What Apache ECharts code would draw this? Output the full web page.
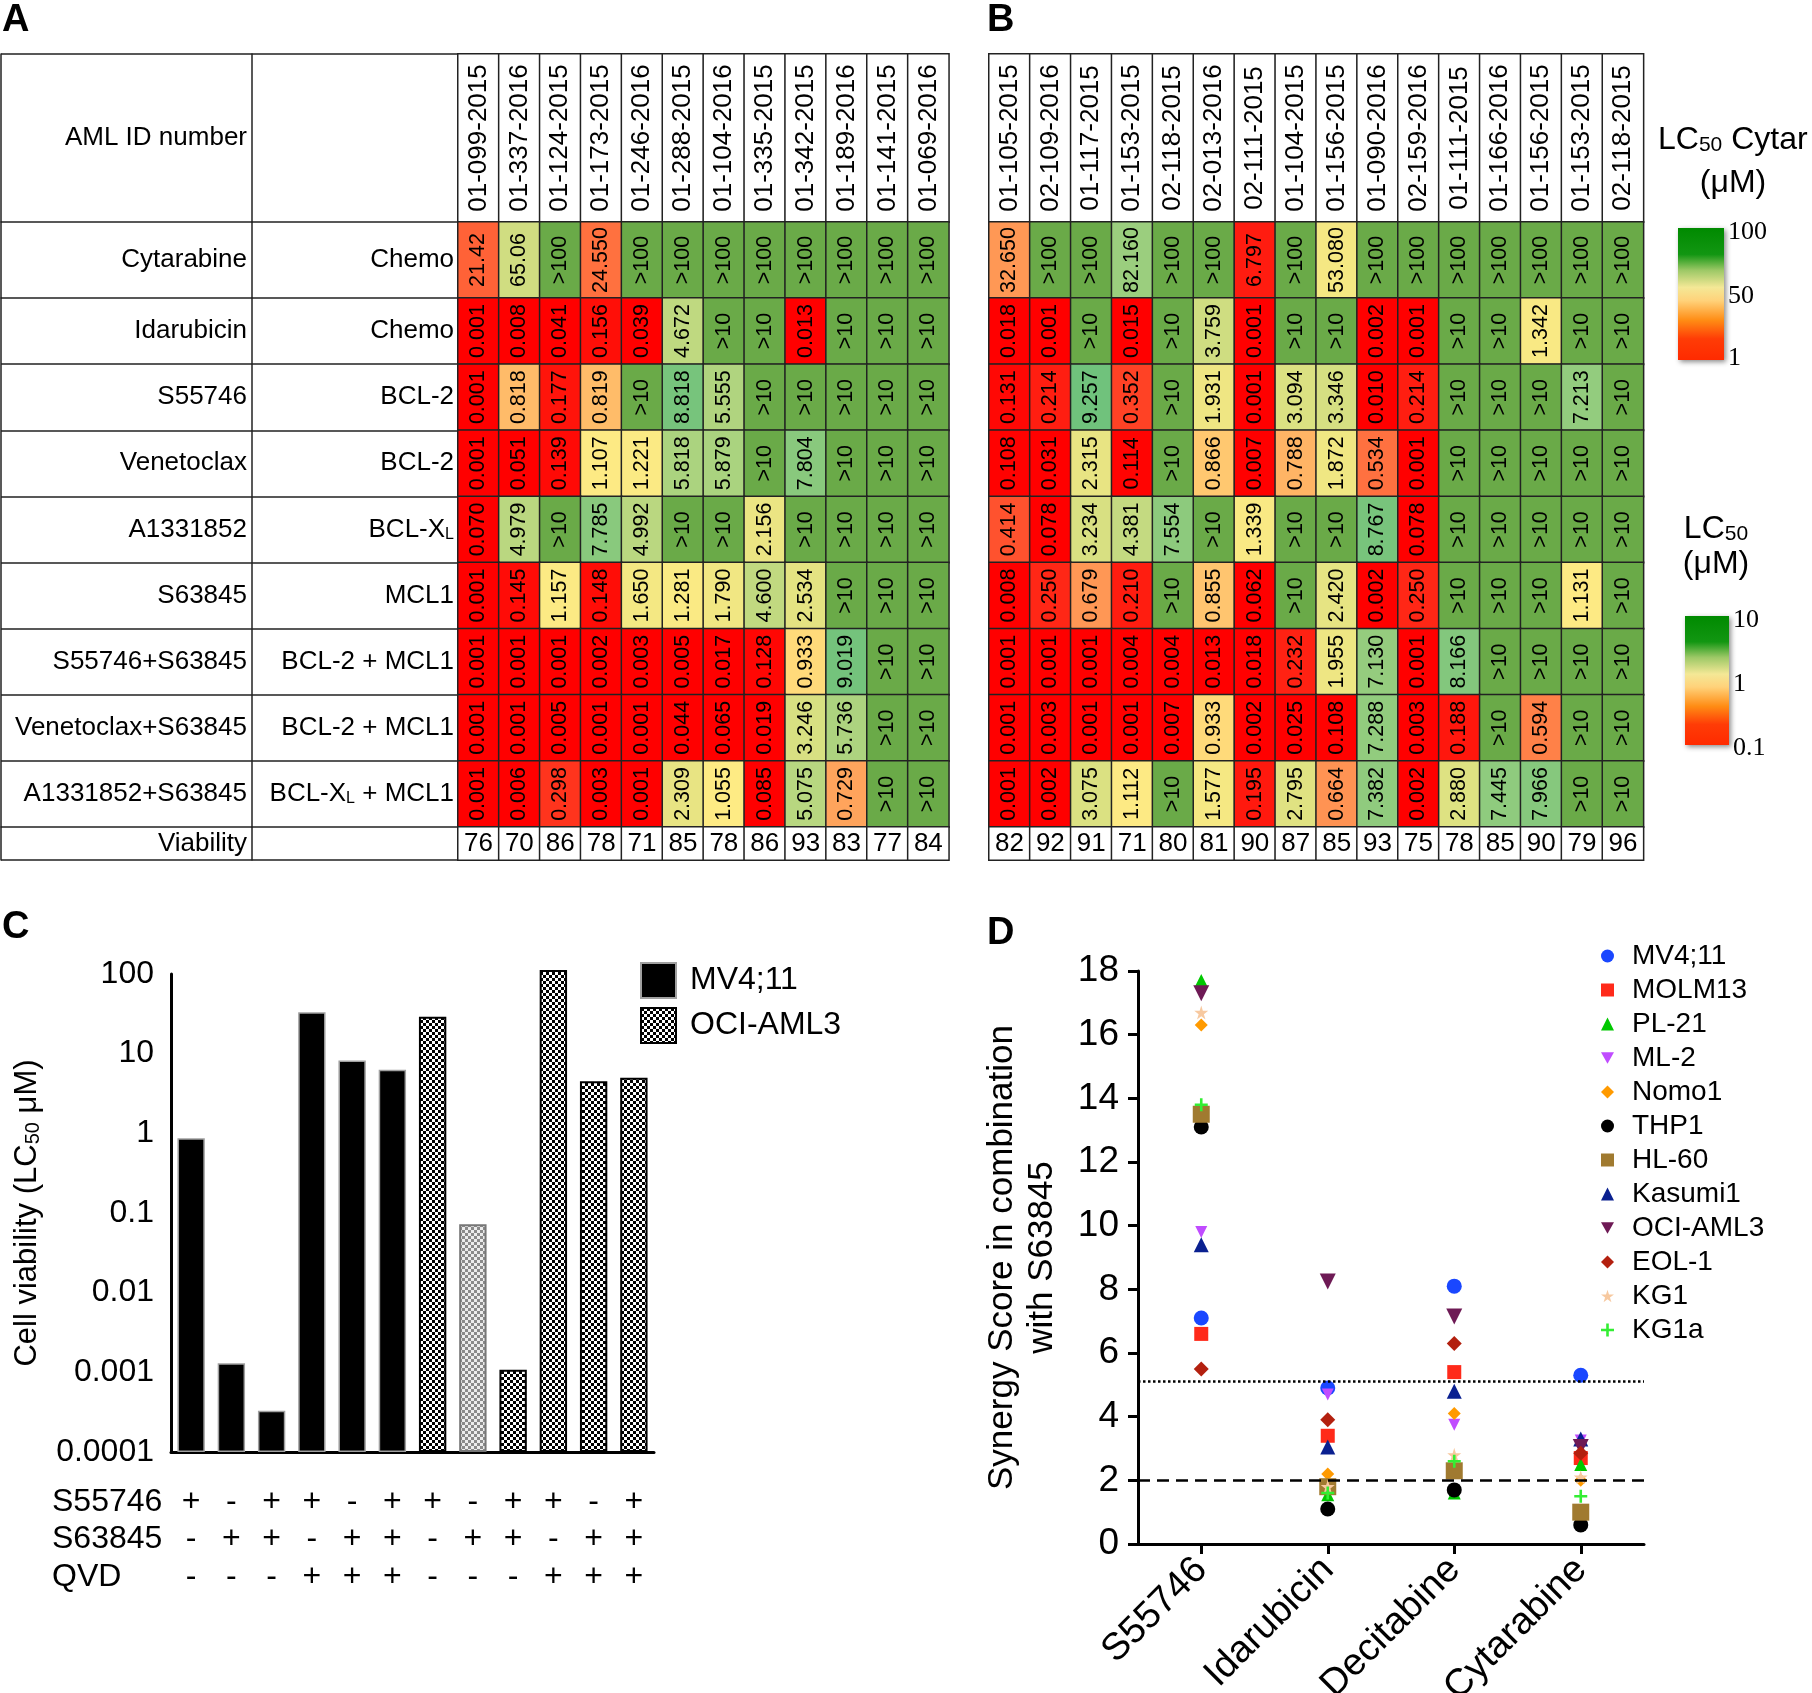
<!DOCTYPE html>
<html>
<head>
<meta charset="utf-8">
<script src="https://cdn.jsdelivr.net/npm/echarts@6/dist/echarts.min.js"></script>
<style>
html, body { margin: 0; padding: 0; background: #fff; }
#chart { width: 1812px; height: 1693px; }
</style>
</head>
<body>
<div id="chart"></div>
<script>
// ---- panel A / B : patient columns ----
const colsA = ['01-099-2015', '01-337-2016', '01-124-2015', '01-173-2015', '01-246-2016', '01-288-2015',
    '01-104-2016', '01-335-2015', '01-342-2015', '01-189-2016', '01-141-2015', '01-069-2016'];
const colsB = ['01-105-2015', '02-109-2016', '01-117-2015', '01-153-2015', '02-118-2015', '02-013-2016',
    '02-111-2015', '01-104-2015', '01-156-2015', '01-090-2016', '02-159-2016', '01-111-2015',
    '01-166-2016', '01-156-2015', '01-153-2015', '02-118-2015'];

const drugRows = ['Idarubicin', 'S55746', 'Venetoclax', 'A1331852', 'S63845',
    'S55746+S63845', 'Venetoclax+S63845', 'A1331852+S63845'];
const targetRows = ['Chemo', 'BCL-2', 'BCL-2', 'BCL-XL', 'MCL1', 'BCL-2 + MCL1', 'BCL-2 + MCL1', 'BCL-XL + MCL1'];

// LC50 values (uM), as printed in the cells
const cytA = ['21.42', '65.06', '>100', '24.550', '>100', '>100', '>100', '>100', '>100', '>100', '>100', '>100'];
const idaA = ['0.001', '0.008', '0.041', '0.156', '0.039', '4.672', '>10', '>10', '0.013', '>10', '>10', '>10'];
const s557A = ['0.001', '0.818', '0.177', '0.819', '>10', '8.818', '5.555', '>10', '>10', '>10', '>10', '>10'];
const venA = ['0.001', '0.051', '0.139', '1.107', '1.221', '5.818', '5.879', '>10', '7.804', '>10', '>10', '>10'];
const a133A = ['0.070', '4.979', '>10', '7.785', '4.992', '>10', '>10', '2.156', '>10', '>10', '>10', '>10'];
const s638A = ['0.001', '0.145', '1.157', '0.148', '1.650', '1.281', '1.790', '4.600', '2.534', '>10', '>10', '>10'];
const s557s638A = ['0.001', '0.001', '0.001', '0.002', '0.003', '0.005', '0.017', '0.128', '0.933', '9.019', '>10', '>10'];
const vens638A = ['0.001', '0.001', '0.005', '0.001', '0.001', '0.044', '0.065', '0.019', '3.246', '5.736', '>10', '>10'];
const a133s638A = ['0.001', '0.006', '0.298', '0.003', '0.001', '2.309', '1.055', '0.085', '5.075', '0.729', '>10', '>10'];
const viabA = ['76', '70', '86', '78', '71', '85', '78', '86', '93', '83', '77', '84'];

const cytB = ['32.650', '>100', '>100', '82.160', '>100', '>100', '6.797', '>100', '53.080', '>100', '>100', '>100', '>100', '>100', '>100', '>100'];
const idaB = ['0.018', '0.001', '>10', '0.015', '>10', '3.759', '0.001', '>10', '>10', '0.002', '0.001', '>10', '>10', '1.342', '>10', '>10'];
const s557B = ['0.131', '0.214', '9.257', '0.352', '>10', '1.931', '0.001', '3.094', '3.346', '0.010', '0.214', '>10', '>10', '>10', '7.213', '>10'];
const venB = ['0.108', '0.031', '2.315', '0.114', '>10', '0.866', '0.007', '0.788', '1.872', '0.534', '0.001', '>10', '>10', '>10', '>10', '>10'];
const a133B = ['0.414', '0.078', '3.234', '4.381', '7.554', '>10', '1.339', '>10', '>10', '8.767', '0.078', '>10', '>10', '>10', '>10', '>10'];
const s638B = ['0.008', '0.250', '0.679', '0.210', '>10', '0.855', '0.062', '>10', '2.420', '0.002', '0.250', '>10', '>10', '>10', '1.131', '>10'];
const s557s638B = ['0.001', '0.001', '0.001', '0.004', '0.004', '0.013', '0.018', '0.232', '1.955', '7.130', '0.001', '8.166', '>10', '>10', '>10', '>10'];
const vens638B = ['0.001', '0.003', '0.001', '0.001', '0.007', '0.933', '0.002', '0.025', '0.108', '7.288', '0.003', '0.188', '>10', '0.594', '>10', '>10'];
const a133s638B = ['0.001', '0.002', '3.075', '1.112', '>10', '1.577', '0.195', '2.795', '0.664', '7.382', '0.002', '2.880', '7.445', '7.966', '>10', '>10'];
const viabB = ['82', '92', '91', '71', '80', '81', '90', '87', '85', '93', '75', '78', '85', '90', '79', '96'];

// ---- panel C ----
const conditionNames = ['S55746', 'S63845', 'QVD'];
const s55746Signs = ['+', '-', '+', '+', '-', '+', '+', '-', '+', '+', '-', '+'];
const s63845Signs = ['-', '+', '+', '-', '+', '+', '-', '+', '+', '-', '+', '+'];
const qvdSigns = ['-', '-', '-', '+', '+', '+', '-', '-', '-', '+', '+', '+'];
const mv411Lc50 = [0.87, 0.0013, 0.00033, 33, 8.2, 6.3];
const ociAml3Lc50 = [29, 0.072, 0.00108, 112, 4.5, 5.0];
const cTickLabels = ['0.0001', '0.001', '0.01', '0.1', '1', '10', '100'];

// ---- panel D ----
const drugsD = ['S55746', 'Idarubicin', 'Decitabine', 'Cytarabine'];
const lineNames = ['MV4;11', 'MOLM13', 'PL-21', 'ML-2', 'Nomo1', 'THP1', 'HL-60', 'Kasumi1', 'OCI-AML3', 'EOL-1', 'KG1', 'KG1a'];
const mv411Score = [7.1, 4.9, 8.1, 5.3];
const molm13Score = [6.6, 3.4, 5.4, 2.7];
const pl21Score = [17.7, 1.55, 1.6, 2.5];
const ml2Score = [9.8, 4.7, 3.75, 3.25];
const nomo1Score = [16.3, 2.2, 4.1, 2.0];
const thp1Score = [13.1, 1.1, 1.7, 0.6];
const hl60Score = [13.5, 1.8, 2.3, 1.0];
const kasumi1Score = [9.4, 3.05, 4.8, 3.3];
const ociAml3Score = [17.3, 8.25, 7.15, 3.05];
const eol1Score = [5.5, 3.9, 6.3, 2.85];
const kg1Score = [16.7, 1.8, 2.8, 2.1];
const kg1aScore = [13.8, 1.6, 2.6, 1.5];
const thresholdLevels = [5.1, 2];

const FONT = "'Liberation Sans', Arial, Helvetica, sans-serif";
const SERIF = "'Liberation Serif', 'Times New Roman', serif";

// colour scale of the tables
const RED = [255, 0, 0], YELLOW = [255, 235, 132], GREEN = [99, 190, 123];
const OVER = '#6aaa48';
function mix(a, b, t) {
    return 'rgb(' + a.map((v, i) => Math.round(v + (b[i] - v) * t)).join(',') + ')';
}
function cellColor(txt, cyt) {
    if (txt[0] === '>') return OVER;
    const v = parseFloat(txt);
    const lo = cyt ? 1 : 0.1, mid = cyt ? 50 : 1, hi = cyt ? 100 : 10;
    if (v <= lo) return mix(RED, RED, 0);
    if (v < mid) return mix(RED, YELLOW, (v - lo) / (mid - lo));
    if (v < hi) return mix(YELLOW, GREEN, (v - mid) / (hi - mid));
    return mix(GREEN, GREEN, 0);
}

// table geometry
const TABLE_X = 1, COL1_X = 252, A_LEFT = 458, B_LEFT = 989, CELL_W = 40.9;
const HEAD_TOP = 54, HEAD_H = 168, CYT_H = 76, REST_H = 529, VIA_H = 33;
const LINE = { color: '#222', width: 1.5 };
const RICH_SUB = { sub: { fontSize: 16, verticalAlign: 'bottom', fontFamily: FONT, color: '#000' } };
const subX = (s) => s.replace('XL', 'X{sub|L}');

const grid = [], xAxis = [], yAxis = [], series = [];

function addBand(left, nCols, top, height, drugLabels, targetLabels, cells, label) {
    const gi = grid.length;
    const withLabels = targetLabels !== null;
    grid.push({ left: left, top: top, width: nCols * CELL_W, height: height, outerBoundsMode: 'none' });
    xAxis.push({ type: 'category', gridIndex: gi, show: false, data: Array.from({ length: nCols }, (_, i) => i) });
    const yi = yAxis.length;
    yAxis.push({
        type: 'category', gridIndex: gi, position: 'left', inverse: true,
        data: withLabels ? targetLabels : drugLabels, show: withLabels,
        axisLine: { show: false },
        axisTick: { show: true, interval: 0, length: left - TABLE_X, lineStyle: LINE },
        axisLabel: { interval: 0, margin: 4, fontSize: 26, color: '#000', fontFamily: FONT, formatter: subX, rich: RICH_SUB }
    });
    if (withLabels) {
        yAxis.push({
            type: 'category', gridIndex: gi, position: 'left', inverse: true, data: drugLabels,
            offset: left - COL1_X,
            axisLine: { show: true, lineStyle: LINE }, axisTick: { show: false },
            axisLabel: { interval: 0, margin: 5, fontSize: 26, color: '#000', fontFamily: FONT }
        });
        yAxis.push({
            type: 'category', gridIndex: gi, position: 'left', inverse: true, data: drugLabels,
            offset: left - TABLE_X,
            axisLine: { show: true, lineStyle: LINE }, axisTick: { show: false }, axisLabel: { show: false }
        });
    }
    series.push({
        type: 'heatmap', xAxisIndex: gi, yAxisIndex: yi, data: cells, silent: true,
        itemStyle: { borderColor: '#222', borderWidth: 1.5 },
        emphasis: { disabled: true },
        label: Object.assign({ show: true, color: '#000', fontFamily: 'Liberation Sans', formatter: (p) => p.data.txt }, label)
    });
}

function valueCells(rows, cyt) {
    const out = [];
    rows.forEach((row, r) => row.forEach((txt, c) => {
        out.push({ value: [c, r, 1], txt: txt, itemStyle: { color: cellColor(txt, cyt) } });
    }));
    return out;
}
function whiteCells(texts) {
    return texts.map((txt, c) => ({ value: [c, 0, 1], txt: txt, itemStyle: { color: '#fff' } }));
}

function addTable(left, cols, cyt, rest, viab, withLabels) {
    const n = cols.length;
    addBand(left, n, HEAD_TOP, HEAD_H, ['AML ID number'], withLabels ? [''] : null,
        whiteCells(cols), { rotate: 90, fontSize: 26 });
    addBand(left, n, HEAD_TOP + HEAD_H, CYT_H, ['Cytarabine'], withLabels ? ['Chemo'] : null,
        valueCells([cyt], true), { rotate: 90, fontSize: 21.5 });
    addBand(left, n, HEAD_TOP + HEAD_H + CYT_H, REST_H, drugRows, withLabels ? targetRows : null,
        valueCells(rest, false), { rotate: 90, fontSize: 21.5 });
    addBand(left, n, HEAD_TOP + HEAD_H + CYT_H + REST_H, VIA_H, ['Viability'], withLabels ? [''] : null,
        whiteCells(viab), { rotate: 0, fontSize: 26 });
}

addTable(A_LEFT, colsA, cytA, [idaA, s557A, venA, a133A, s638A, s557s638A, vens638A, a133s638A], viabA, true);
addTable(B_LEFT, colsB, cytB, [idaB, s557B, venB, a133B, s638B, s557s638B, vens638B, a133s638B], viabB, false);

// ---- panel C : log bar chart ----
function checker(a, b, s) {
    const c = document.createElement('canvas');
    c.width = c.height = 2 * s;
    const g = c.getContext('2d');
    g.fillStyle = b; g.fillRect(0, 0, 2 * s, 2 * s);
    g.fillStyle = a; g.fillRect(0, 0, s, s); g.fillRect(s, s, s, s);
    return c;
}
const darkChecker = { image: checker('#000', '#fff', 3), repeat: 'repeat' };
const lightChecker = { image: checker('#8a8a8a', '#ececec', 3), repeat: 'repeat' };

const gC = grid.length;
grid.push({ left: 171, top: 974, width: 483, height: 478, outerBoundsMode: 'none' });
xAxis.push({
    type: 'category', gridIndex: gC, data: s55746Signs.map((_, i) => String(i)),
    axisLine: { onZero: false, lineStyle: { color: '#000', width: 3 } }, axisTick: { show: false },
    axisLabel: {
        interval: 0, margin: 31, fontSize: 32, lineHeight: 37.5, color: '#000', fontFamily: FONT,
        formatter: (v, i) => [s55746Signs[i], s63845Signs[i], qvdSigns[i]].join('\n')
    }
});
const yC = yAxis.length;
yAxis.push({
    type: 'log', logBase: 10, gridIndex: gC, min: 0.0001, max: 100, startValue: 0.0001,
    axisLine: { show: true, lineStyle: { color: '#000', width: 3 } }, axisTick: { show: false },
    splitLine: { show: false },
    axisLabel: {
        fontSize: 32, color: '#000', margin: 17, fontFamily: FONT,
        formatter: (v) => cTickLabels[Math.round(Math.log10(v)) + 4]
    },
    name: 'Cell viability (LC{sub|50} μM)', nameLocation: 'middle', nameRotate: 90, nameGap: 128,
    nameTextStyle: { fontSize: 31, color: '#000', fontFamily: FONT, rich: { sub: { fontSize: 20, verticalAlign: 'bottom', fontFamily: FONT, color: '#000' } } }
});
const blank = mv411Lc50.map(() => '-');
series.push({
    name: 'MV4;11', type: 'bar', xAxisIndex: gC, yAxisIndex: yC, clip: false,
    data: mv411Lc50.concat(blank), barWidth: '68%',
    itemStyle: { color: '#000', borderColor: '#a0a0a0', borderWidth: 1.5 }
});
series.push({
    name: 'OCI-AML3', type: 'bar', xAxisIndex: gC, yAxisIndex: yC, clip: false, barGap: '-100%',
    data: blank.concat(ociAml3Lc50.map((v, i) => i === 1
        ? { value: v, itemStyle: { color: lightChecker, borderColor: '#777' } } : v)),
    barWidth: '68%',
    itemStyle: { color: darkChecker, borderColor: '#000', borderWidth: 2 }
});

// ---- panel D : synergy scatter ----
const gD = grid.length;
grid.push({ left: 1138, top: 971, width: 506, height: 573, outerBoundsMode: 'none' });
xAxis.push({
    type: 'category', gridIndex: gD, data: drugsD,
    axisLine: { onZero: false, lineStyle: { color: '#000', width: 3 } },
    axisTick: { show: true, alignWithLabel: true, length: 10, lineStyle: { width: 3 } },
    axisLabel: { interval: 0, rotate: 45, fontSize: 38, margin: 20, color: '#000', fontFamily: FONT }
});
const yD = yAxis.length;
yAxis.push({
    type: 'value', gridIndex: gD, min: 0, max: 18, interval: 2,
    axisLine: { show: true, lineStyle: { color: '#000', width: 3 } },
    axisTick: { show: true, length: 10, lineStyle: { width: 3 } },
    splitLine: { show: false },
    axisLabel: { fontSize: 37, margin: 19, color: '#000', fontFamily: FONT },
    name: 'Synergy Score in combination\nwith S63845', nameLocation: 'middle', nameRotate: 90, nameGap: 76,
    nameTextStyle: { fontSize: 35, lineHeight: 40, color: '#000', fontFamily: FONT }
});
const scores = [mv411Score, molm13Score, pl21Score, ml2Score, nomo1Score, thp1Score, hl60Score,
    kasumi1Score, ociAml3Score, eol1Score, kg1Score, kg1aScore];
const DOWN = 'path://M0,0L10,0L5,9Z';
const STAR = 'path://M50,0L61,35H98L68,57L79,91L50,70L21,91L32,57L2,35H39Z';
const PLUS = 'path://M4,0H6V4H10V6H6V10H4V6H0V4H4Z';
const markerStyles = [
    ['circle', 15, '#1a47ff'], ['rect', 14, '#ff2a1a'], ['triangle', 13, '#00c800'], [DOWN, 12, '#c04cff'],
    ['diamond', 13, '#ff9a00'], ['circle', 15, '#000000'], ['rect', 17, '#a07a30'], ['triangle', 15, '#0a2090'],
    [DOWN, 16, '#6e1a55'], ['diamond', 15, '#b3200f'], [STAR, 14, '#f7c9a0'], [PLUS, 13, '#33ee33']
];
lineNames.forEach((name, k) => {
    const s = {
        name: name, type: 'scatter', xAxisIndex: gD, yAxisIndex: yD, data: scores[k],
        symbol: markerStyles[k][0], symbolSize: markerStyles[k][1],
        itemStyle: { color: markerStyles[k][2], opacity: 1 }, silent: true
    };
    if (k === 0) {
        s.markLine = {
            silent: true, symbol: 'none', label: { show: false },
            data: [
                { yAxis: thresholdLevels[0], lineStyle: { type: 'dotted', width: 2.5, color: '#000' } },
                { yAxis: thresholdLevels[1], lineStyle: { type: [12, 7], width: 2.5, color: '#000' } }
            ]
        };
    }
    series.push(s);
});

// ---- annotations: panel letters, colour keys, condition row names ----
function letter(t, x, y) {
    return { type: 'text', x: x, y: y, style: { text: t, fontSize: 38, fontWeight: 'bold', fontFamily: FONT, fill: '#000' } };
}
function gradient() {
    return new echarts.graphic.LinearGradient(0, 0, 0, 1, [
        { offset: 0, color: '#008a00' }, { offset: 0.2, color: '#129612' }, { offset: 0.32, color: '#9cc866' },
        { offset: 0.45, color: '#f4e896' }, { offset: 0.55, color: '#ffd27a' }, { offset: 0.7, color: '#ff8c14' },
        { offset: 0.84, color: '#ff3c06' }, { offset: 1, color: '#ff2a00' }
    ]);
}
const richLC = { a: { fontSize: 32, fontFamily: FONT, fill: '#000' }, s: { fontSize: 21, fontFamily: FONT, fill: '#000', verticalAlign: 'bottom' } };
function serifLabel(t, x, y) {
    return { type: 'text', x: x, y: y, style: { text: t, fontSize: 26, fontFamily: SERIF, fill: '#000', textVerticalAlign: 'middle' } };
}
const graphic = [
    letter('A', 2, 2), letter('B', 987, 2), letter('C', 2, 909), letter('D', 987, 915),
    { type: 'text', x: 1658, y: 140, style: { text: '{a|LC}{s|50}{a| Cytar}', rich: richLC, textVerticalAlign: 'middle' } },
    { type: 'text', x: 1733, y: 183, style: { text: '(μM)', fontSize: 32, fontFamily: FONT, fill: '#000', textAlign: 'center', textVerticalAlign: 'middle' } },
    { type: 'rect', x: 1678, y: 228, shape: { width: 46, height: 132 },
        style: { fill: gradient(), shadowBlur: 5, shadowColor: 'rgba(0,0,0,0.45)', shadowOffsetX: 2, shadowOffsetY: 2 } },
    serifLabel('100', 1728, 232), serifLabel('50', 1728, 296), serifLabel('1', 1728, 358),
    { type: 'text', x: 1716, y: 529, style: { text: '{a|LC}{s|50}', rich: richLC, textAlign: 'center', textVerticalAlign: 'middle' } },
    { type: 'text', x: 1716, y: 564, style: { text: '(μM)', fontSize: 32, fontFamily: FONT, fill: '#000', textAlign: 'center', textVerticalAlign: 'middle' } },
    { type: 'rect', x: 1685, y: 616, shape: { width: 44, height: 129 },
        style: { fill: gradient(), shadowBlur: 5, shadowColor: 'rgba(0,0,0,0.45)', shadowOffsetX: 2, shadowOffsetY: 2 } },
    serifLabel('10', 1733, 620), serifLabel('1', 1733, 684), serifLabel('0.1', 1733, 748)
];
conditionNames.forEach((t, i) => {
    graphic.push({ type: 'text', x: 52, y: 1502 + i * 37.5,
        style: { text: t, fontSize: 32, fontFamily: FONT, fill: '#000', textVerticalAlign: 'middle' } });
});

const chart = echarts.init(document.getElementById('chart'));
chart.setOption({
    backgroundColor: '#fff',
    animation: false,
    textStyle: { fontFamily: FONT },
    grid: grid,
    xAxis: xAxis,
    yAxis: yAxis,
    series: series,
    legend: [
        {
            left: 635, top: 957, orient: 'vertical', itemWidth: 35, itemHeight: 35, itemGap: 8, icon: 'rect',
            data: ['MV4;11', 'OCI-AML3'], selectedMode: false,
            textStyle: { fontSize: 32, color: '#000', fontFamily: FONT, padding: [0, 0, 0, 9] }
        },
        {
            left: 1596, top: 934, orient: 'vertical', itemWidth: 13, itemHeight: 13, itemGap: 0,
            // the names are shared with panel C, so each key is spelled out here
            data: lineNames.map((n, k) => ({
                name: n, icon: markerStyles[k][0],
                itemStyle: { color: markerStyles[k][2], borderWidth: 0 }
            })),
            selectedMode: false,
            textStyle: { fontSize: 28, lineHeight: 34, color: '#000', fontFamily: FONT, padding: [0, 0, 0, 13] }
        }
    ],
    graphic: graphic
});
</script>
</body>
</html>
